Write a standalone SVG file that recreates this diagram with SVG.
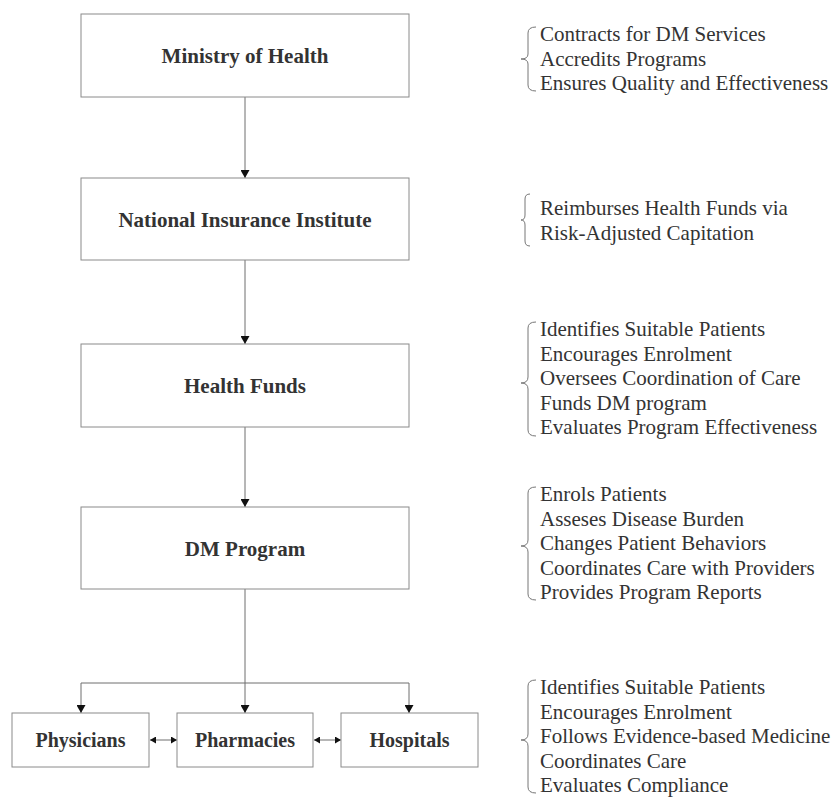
<svg xmlns="http://www.w3.org/2000/svg" width="831" height="802" viewBox="0 0 831 802">
<style>
.box{fill:#fff;stroke:#8a8a8a;stroke-width:1}
.lbl{font-family:"Liberation Serif","Times New Roman",serif;font-weight:bold;font-size:21px;fill:#333;text-anchor:middle}
.sm{font-size:20px}
.note{font-family:"Liberation Serif","Times New Roman",serif;font-size:21px;fill:#333}
.line{fill:none;stroke:#6e6e6e;stroke-width:1}
.brace{fill:none;stroke:#777;stroke-width:1}
</style>
<defs>
<marker id="ah" markerUnits="userSpaceOnUse" markerWidth="8" markerHeight="9" refX="8" refY="4.5" orient="auto">
<path d="M0,0 L8,4.5 L0,9 z" fill="#111"/>
</marker>
<marker id="sh" markerUnits="userSpaceOnUse" markerWidth="6" markerHeight="7" refX="6" refY="3.5" orient="auto-start-reverse">
<path d="M0,0 L6,3.5 L0,7 z" fill="#111"/>
</marker>
</defs>
<rect width="831" height="802" fill="#fff"/>
<g id="connectors">
<path class="line" d="M245,97 V178" marker-end="url(#ah)"/>
<path class="line" d="M245,260 V344" marker-end="url(#ah)"/>
<path class="line" d="M245,427 V507" marker-end="url(#ah)"/>
<path class="line" d="M245,589 V713" marker-end="url(#ah)"/>
<path class="line" d="M81,683 H409"/>
<path class="line" d="M81,683 V713" marker-end="url(#ah)"/>
<path class="line" d="M409,683 V713" marker-end="url(#ah)"/>
<path class="line" d="M150,740 H177" marker-start="url(#sh)" marker-end="url(#sh)"/>
<path class="line" d="M314,740 H341" marker-start="url(#sh)" marker-end="url(#sh)"/>
</g>
<g id="ministry">
<rect class="box" x="81" y="14" width="328" height="83"/>
<text class="lbl" x="245" y="63">Ministry of Health</text>
</g>
<g id="nii">
<rect class="box" x="81" y="178" width="328" height="82"/>
<text class="lbl" x="245" y="227">National Insurance Institute</text>
</g>
<g id="funds">
<rect class="box" x="81" y="344" width="328" height="83"/>
<text class="lbl" x="245" y="393">Health Funds</text>
</g>
<g id="dm">
<rect class="box" x="81" y="507" width="328" height="82"/>
<text class="lbl" x="245" y="556">DM Program</text>
</g>
<g id="physicians">
<rect class="box" x="12" y="713" width="137" height="54"/>
<text class="lbl sm" x="80.5" y="747">Physicians</text>
</g>
<g id="pharmacies">
<rect class="box" x="177" y="713" width="136" height="54"/>
<text class="lbl sm" x="245" y="747">Pharmacies</text>
</g>
<g id="hospitals">
<rect class="box" x="341" y="713" width="137" height="54"/>
<text class="lbl sm" x="409.5" y="747">Hospitals</text>
</g>
<g id="notes-ministry">
<path class="brace" d="M536,27 Q528,27 528,33 L528,54 Q528,59 521,59 Q528,59 528,64 L528,85 Q528,91 536,91"/>
<text class="note" x="540" y="41">Contracts for DM Services</text>
<text class="note" x="540" y="65.5">Accredits Programs</text>
<text class="note" x="540" y="90">Ensures Quality and Effectiveness</text>
</g>
<g id="notes-nii">
<path class="brace" d="M530,194 Q525,194 525,199 L525,215 Q525,220 521,220 Q525,220 525,225 L525,241 Q525,246 530,246"/>
<text class="note" x="540" y="215">Reimburses Health Funds via</text>
<text class="note" x="540" y="240">Risk-Adjusted Capitation</text>
</g>
<g id="notes-funds">
<path class="brace" d="M536,322 Q528,322 528,328 L528,377 Q528,383 521,383 Q528,383 528,389 L528,430 Q528,436 536,436"/>
<text class="note" x="540" y="336">Identifies Suitable Patients</text>
<text class="note" x="540" y="360.5">Encourages Enrolment</text>
<text class="note" x="540" y="385">Oversees Coordination of Care</text>
<text class="note" x="540" y="409.5">Funds DM program</text>
<text class="note" x="540" y="434">Evaluates Program Effectiveness</text>
</g>
<g id="notes-dm">
<path class="brace" d="M536,487 Q528,487 528,493 L528,540 Q528,546 521,546 Q528,546 528,552 L528,594 Q528,600 536,600"/>
<text class="note" x="540" y="501">Enrols Patients</text>
<text class="note" x="540" y="525.5">Asseses Disease Burden</text>
<text class="note" x="540" y="550">Changes Patient Behaviors</text>
<text class="note" x="540" y="574.5">Coordinates Care with Providers</text>
<text class="note" x="540" y="599">Provides Program Reports</text>
</g>
<g id="notes-providers">
<path class="brace" d="M536,680 Q528,680 528,686 L528,734 Q528,740 521,740 Q528,740 528,746 L528,787 Q528,793 536,793"/>
<text class="note" x="540" y="694">Identifies Suitable Patients</text>
<text class="note" x="540" y="718.5">Encourages Enrolment</text>
<text class="note" x="540" y="743">Follows Evidence-based Medicine</text>
<text class="note" x="540" y="767.5">Coordinates Care</text>
<text class="note" x="540" y="792">Evaluates Compliance</text>
</g>
</svg>
